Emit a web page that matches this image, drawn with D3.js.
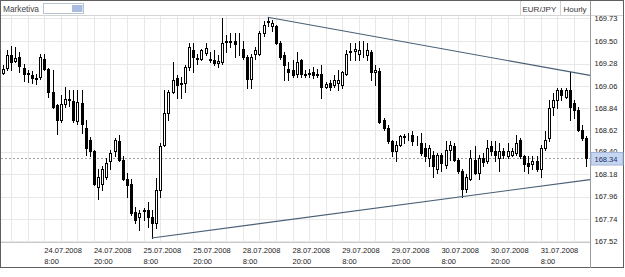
<!DOCTYPE html>
<html><head><meta charset="utf-8">
<script src="https://cdn.jsdelivr.net/npm/d3@7"></script>
<style>
html,body{margin:0;padding:0;background:#fff;}
svg{display:block;}
text{font-family:"Liberation Sans",Arial,sans-serif;}
</style></head>
<body>
<svg id="chart" width="625" height="277"></svg>
<script>
// ---- data (EUR/JPY hourly, 23.07.2008 22:00 .. 31.07.2008) ----
const open = [169.19,169.24,169.37,169.31,169.35,169.24,169.19,169.17,169.14,169.15,
169.33,169.23,169.00,168.87,168.72,168.88,168.93,168.91,168.71,168.89,
168.64,168.52,168.41,168.06,168.09,168.16,168.31,168.41,168.51,168.32,
168.14,168.09,167.81,167.76,167.83,167.83,167.76,167.70,168.03,168.47,
168.79,169.00,169.14,169.09,169.09,169.25,169.42,169.34,169.33,169.39,
169.33,169.32,169.29,169.30,169.49,169.49,169.50,169.48,169.43,169.35,
169.13,169.38,169.38,169.58,169.69,169.65,169.65,169.48,169.37,169.23,
169.22,169.18,169.32,169.18,169.18,169.20,169.18,169.18,169.05,169.09,
169.07,169.09,169.07,169.18,169.40,169.41,169.38,169.40,169.37,169.40,
169.20,169.21,168.72,168.64,168.51,168.41,168.47,168.56,168.57,168.57,
168.50,168.49,168.44,168.34,168.37,168.23,168.37,168.27,168.42,168.46,
168.32,168.21,168.04,168.14,168.32,168.19,168.34,168.31,168.46,168.41,
168.34,168.41,168.36,168.37,168.39,168.52,168.36,168.29,168.28,168.31,
168.23,168.44,168.54,168.85,168.92,169.02,168.95,169.02,168.89,168.82,
168.62,168.54];
const high = [169.27,169.42,169.46,169.45,169.40,169.28,169.22,169.21,169.18,169.38,
169.38,169.24,169.22,168.88,168.97,169.05,169.02,169.02,169.02,169.02,
168.72,168.55,168.42,168.23,168.26,168.34,168.42,168.54,168.57,168.36,
168.19,168.14,167.86,167.83,167.85,167.91,167.83,168.15,168.49,169.02,
169.02,169.30,169.17,169.15,169.27,169.48,169.48,169.38,169.43,169.48,
169.40,169.42,169.37,169.73,169.56,169.58,169.58,169.58,169.50,169.37,
169.38,169.45,169.60,169.70,169.74,169.71,169.66,169.50,169.40,169.30,
169.32,169.40,169.33,169.22,169.23,169.25,169.23,169.27,169.10,169.12,
169.17,169.22,169.21,169.42,169.48,169.48,169.50,169.50,169.48,169.42,
169.27,169.24,168.74,168.67,168.52,168.51,168.57,168.58,168.59,168.61,
168.56,168.59,168.49,168.47,168.41,168.39,168.39,168.51,168.51,168.49,
168.34,168.23,168.18,168.42,168.46,168.37,168.39,168.52,168.51,168.51,
168.49,168.44,168.49,168.44,168.57,168.54,168.37,168.36,168.36,168.36,
168.47,168.61,168.92,168.99,169.04,169.04,169.04,169.20,168.92,168.85,
168.67,168.56];
const low = [169.18,169.22,169.22,169.30,169.20,169.11,169.10,169.09,169.08,169.13,
169.22,168.95,168.84,168.58,168.70,168.85,168.86,168.70,168.68,168.59,
168.37,168.36,168.08,167.94,168.03,168.14,168.23,168.36,168.31,168.13,
167.96,167.78,167.70,167.63,167.73,167.66,167.55,167.65,167.96,168.46,
168.72,168.99,168.94,168.94,169.00,169.22,169.20,169.28,169.32,169.37,
169.30,169.27,169.25,169.28,169.40,169.45,169.35,169.37,169.33,169.04,
169.04,169.33,169.37,169.55,169.65,169.60,169.47,169.33,169.12,169.12,
169.15,169.15,169.15,169.15,169.15,169.14,169.15,168.94,169.04,169.02,
169.05,169.02,169.04,169.17,169.32,169.32,169.32,169.35,169.32,169.12,
169.07,168.69,168.62,168.49,168.36,168.31,168.46,168.49,168.52,168.47,
168.47,168.37,168.31,168.26,168.16,168.19,168.21,168.24,168.32,168.31,
168.19,167.96,168.01,168.13,168.18,168.14,168.26,168.29,168.37,168.31,
168.21,168.34,168.34,168.36,168.37,168.34,168.21,168.19,168.23,168.21,
168.16,168.42,168.51,168.77,168.84,168.92,168.94,168.72,168.74,168.61,
168.52,168.26];
const close = [169.23,169.37,169.30,169.34,169.26,169.18,169.18,169.14,169.13,169.35,
169.23,169.00,168.85,168.72,168.88,168.93,168.92,168.72,168.90,168.68,
168.44,168.41,168.09,168.16,168.23,168.29,168.39,168.52,168.32,168.14,
168.08,167.80,167.73,167.80,167.82,167.76,167.70,168.03,168.46,168.79,
169.00,169.12,169.07,169.08,169.25,169.45,169.35,169.33,169.42,169.44,
169.32,169.29,169.31,169.48,169.50,169.50,169.47,169.48,169.35,169.13,
169.35,169.42,169.58,169.66,169.70,169.68,169.48,169.35,169.27,169.20,
169.17,169.30,169.18,169.17,169.19,169.17,169.17,169.05,169.08,169.05,
169.12,169.12,169.20,169.38,169.41,169.43,169.42,169.40,169.42,169.20,
169.22,168.70,168.64,168.51,168.41,168.47,168.56,168.55,168.57,168.51,
168.50,168.39,168.36,168.44,168.26,168.37,168.29,168.42,168.47,168.32,
168.21,168.04,168.16,168.34,168.19,168.34,168.30,168.44,168.41,168.37,
168.41,168.37,168.41,168.41,168.49,168.36,168.28,168.26,168.31,168.23,
168.44,168.52,168.84,168.92,169.02,168.97,169.02,168.85,168.82,168.62,
168.54,168.34];
const xTickIndex = [10,22,34,46,58,70,82,94,106,118,130];
const xTickDate = ["24.07.2008","24.07.2008","25.07.2008","25.07.2008","28.07.2008","28.07.2008",
                   "29.07.2008","29.07.2008","30.07.2008","30.07.2008","31.07.2008"];
const xTickTime = ["8:00","20:00","8:00","20:00","8:00","20:00","8:00","20:00","8:00","20:00","8:00"];
const yTicks = [167.52,167.74,167.96,168.18,168.40,168.62,168.84,169.06,169.28,169.50,169.73];
const lastPrice = 168.34;
const upperTrend = [[64,169.74],[137,169.20]];
const lowerTrend = [[36,167.55],[111,167.96]];
const symbol = "EUR/JPY", period = "Hourly", brand = "Marketiva";

// ---- layout ----
const W = 625, H = 268;
const plot = {left: 1, right: 590, top: 16, bottom: 242};
const svg = d3.select("#chart");
const x = d3.scaleLinear().domain([10,130]).range([44.3,540.7]);
const y = d3.scaleLinear().domain([167.52,169.73]).range([241,18.3]);
const cx = i => Math.round(x(i));
const cy = v => Math.round(y(v));

// background
svg.append("rect").attr("x",0.5).attr("y",0.5).attr("width",W-2).attr("height",H-1)
  .attr("fill","#fff").attr("stroke","#5f5f5f");

// grid
const g = svg.append("g");
const vIdx = d3.range(2, 142, 4);
g.selectAll("line.v").data(vIdx).join("line")
  .attr("x1",i=>cx(i)+0.5).attr("x2",i=>cx(i)+0.5)
  .attr("y1",plot.top).attr("y2",plot.bottom)
  .attr("stroke","#e8e8e8");
g.selectAll("line.h").data(yTicks).join("line")
  .attr("x1",plot.left).attr("x2",plot.right)
  .attr("y1",d=>cy(d)+0.5).attr("y2",d=>cy(d)+0.5)
  .attr("stroke","#e8e8e8");

// header
svg.append("line").attr("x1",1).attr("x2",W-2).attr("y1",15.5).attr("y2",15.5).attr("stroke","#d4d4d4");
svg.append("text").attr("x",3).attr("y",12).attr("font-size",8.3).attr("fill","#444").text(brand);
svg.append("rect").attr("x",43.5).attr("y",3.5).attr("width",40).attr("height",10)
  .attr("fill","#fff").attr("stroke","#b8c4d4");
svg.append("rect").attr("x",72).attr("y",5).attr("width",10.5).attr("height",7).attr("fill","#a9bde0");
[520.5,560.5].forEach(v=>svg.append("line").attr("x1",v).attr("x2",v).attr("y1",1).attr("y2",15.5).attr("stroke","#d4d4d4"));
svg.append("text").attr("x",522.5).attr("y",12).attr("font-size",8).attr("fill","#333").text(symbol);
svg.append("text").attr("x",563.5).attr("y",12).attr("font-size",8).attr("fill","#333").text(period);

// last price dashed line
svg.append("line").attr("x1",plot.left).attr("x2",plot.right)
  .attr("y1",cy(lastPrice)+0.5).attr("y2",cy(lastPrice)+0.5)
  .attr("stroke","#a0a0a0").attr("stroke-dasharray","2,2");

// candles
const data = open.map((o,i)=>({i,o,h:high[i],l:low[i],c:close[i]}));
const cg = svg.append("g");
const cs = cg.selectAll("g").data(data).join("g");
cs.append("line")
  .attr("x1",d=>cx(d.i)+0.5).attr("x2",d=>cx(d.i)+0.5)
  .attr("y1",d=>cy(d.h)).attr("y2",d=>cy(d.l)+1)
  .attr("stroke","#000");
cs.append("rect")
  .attr("x",d=>cx(d.i)-0.5).attr("width",2)
  .attr("y",d=>cy(Math.max(d.o,d.c))+0.5)
  .attr("height",d=>Math.max(cy(Math.min(d.o,d.c))-cy(Math.max(d.o,d.c)),0))
  .attr("fill",d=>d.c>=d.o?"#fff":"#000").attr("stroke","#000");

// trend lines
function trend(t){
  const [a,b]=t, slope=(b[1]-a[1])/(b[0]-a[0]);
  const xe = x.invert(plot.right);
  return [[a[0],a[1]],[xe,a[1]+slope*(xe-a[0])]];
}
[upperTrend,lowerTrend].forEach(t=>{
  const p=trend(t);
  svg.append("line").attr("x1",x(p[0][0])).attr("y1",y(p[0][1]))
    .attr("x2",x(p[1][0])).attr("y2",y(p[1][1]))
    .attr("stroke","#4a5f76").attr("stroke-width",1.1);
});

// axes frame
svg.append("line").attr("x1",plot.right+0.5).attr("x2",plot.right+0.5).attr("y1",1).attr("y2",H)
  .attr("stroke","#9a9a9a");
svg.append("line").attr("x1",1).attr("x2",plot.right).attr("y1",plot.bottom+0.5).attr("y2",plot.bottom+0.5)
  .attr("stroke","#c8c8c8");

// y labels (the 168.40 label sits partly under the last-price box, as in the original)
svg.selectAll("text.yl").data(yTicks).join("text").attr("class","yl")
  .attr("x",594.5).attr("y",d=>y(d)+(d===168.40?1.6:2.7)).attr("font-size",7.5).attr("fill","#222")
  .text(d=>d.toFixed(2));
// last price box
svg.append("rect").attr("x",591).attr("y",cy(lastPrice)-5.5).attr("width",32).attr("height",12.5)
  .attr("fill","#c6d6f0").attr("stroke","#9fb4d8");
svg.append("text").attr("x",594.5).attr("y",cy(lastPrice)+4).attr("font-size",7.5).attr("fill","#1b2f6a")
  .text(lastPrice.toFixed(2));

// x labels
const xl = svg.selectAll("g.xl").data(xTickIndex).join("g").attr("class","xl");
xl.append("text").attr("x",i=>x(i)).attr("y",253.3).attr("font-size",7.5).attr("fill","#222")
  .text((d,k)=>xTickDate[k]);
xl.append("text").attr("x",i=>x(i)).attr("y",263.5).attr("font-size",7.5).attr("fill","#222")
  .text((d,k)=>xTickTime[k]);
</script>
</body></html>
